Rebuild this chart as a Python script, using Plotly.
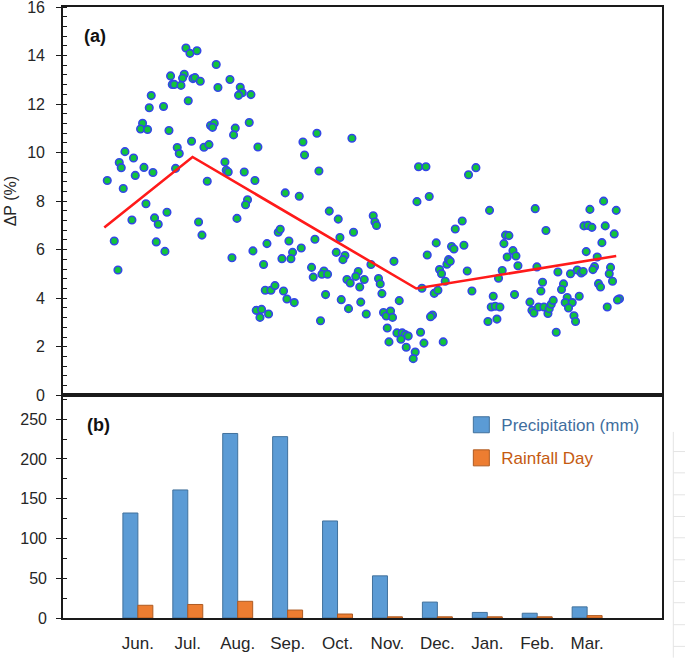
import plotly.graph_objects as go

# ---- Panel (a): daily ΔP scatter (x in month-position units, Jun.=1 ... Mar.=10)
dp_x = [1.963, 2.043, 2.184, 2.570, 1.655, 1.929, 1.895, 2.103, 2.143, 2.250,
        1.689, 1.729, 1.863, 2.604, 2.845, 3.051, 3.091, 3.017, 3.265, 1.268,
        1.228, 1.514, 2.009, 1.094, 1.054, 1.194, 1.623, 2.456, 2.530, 2.496,
        2.951, 2.917, 3.231, 2.075, 2.324, 2.424, 1.789, 1.829, 3.405, 0.741,
        0.913, 0.627, 0.667, 1.122, 1.302, 0.948, 1.755, 2.744, 2.770, 2.810,
        3.131, 3.345, 2.390, 0.387, 0.707, 4.307, 4.339, 4.587, 5.288, 4.627,
        3.952, 4.233, 3.197, 1.162, 3.157,
        6.623, 6.771, 7.624, 7.772, 6.591, 6.837, 10.33, 8.960,
        0.881, 1.334, 1.408, 1.583, 0.527, 1.368, 1.542, 0.601, 2.216, 2.284,
        2.985, 2.885, 3.305, 3.586, 3.812, 3.852, 4.026, 4.099, 4.273, 3.886,
        4.066, 3.518, 4.547, 4.834, 5.014, 5.320, 5.048, 4.974, 5.148, 5.108,
        4.479, 4.513, 4.728, 4.687, 4.800, 5.415, 5.365, 5.188, 5.254, 5.445,
        3.552, 3.666, 3.746, 3.918, 3.986, 4.133, 4.760, 5.074, 5.220, 3.371,
        3.478, 3.446, 3.618, 4.659, 5.465,
        8.045, 10.056, 10.583, 5.715, 5.749, 5.781, 7.498, 7.358, 6.977, 6.797,
        7.284, 7.332, 7.532, 6.130, 5.669, 5.535, 5.821, 5.855, 5.889, 5.575,
        6.236, 5.921, 5.976, 6.062, 6.102, 5.996, 6.190, 6.296, 6.356, 6.416,
        6.270, 6.030, 6.376, 6.556, 6.516, 6.663, 6.731, 7.117, 6.903, 6.863,
        6.691, 6.937, 7.011, 7.157, 7.043, 7.083, 7.191, 7.224, 7.258, 7.598,
        7.692, 8.365, 8.433, 8.333, 8.514, 8.399, 8.574, 8.614, 8.299, 8.225,
        8.546, 8.119, 8.079, 8.159, 8.253, 8.013, 8.193, 9.175, 8.994, 9.107,
        9.074, 8.854, 8.894, 8.934, 9.026, 9.135, 9.215, 9.241, 9.281, 9.321,
        9.381, 9.415, 9.527, 9.487, 9.601, 9.561, 9.702, 9.627, 9.736, 9.768,
        9.842, 9.667, 9.802, 9.882, 9.922, 9.982, 9.936, 10.016, 10.096, 10.363,
        10.543, 10.296, 10.202, 10.148, 10.116, 10.469, 10.443, 10.509, 10.228, 10.268,
        10.649, 10.609, 10.403]
dp_y = [14.31, 14.09, 14.20, 13.63, 13.16, 13.23, 13.07, 13.05, 13.09, 12.94,
        12.81, 12.81, 12.77, 12.68, 13.01, 12.69, 12.47, 12.36, 12.39, 12.35,
        11.85, 11.90, 12.14, 11.21, 10.97, 10.95, 10.91, 11.12, 11.21, 11.04,
        11.01, 10.73, 11.24, 10.47, 10.22, 10.33, 10.21, 9.96, 10.23, 10.04,
        9.78, 9.59, 9.38, 9.39, 9.18, 9.06, 9.35, 9.61, 9.27, 9.20,
        9.20, 8.85, 8.82, 8.85, 8.52, 10.44, 9.90, 10.80, 10.59, 9.24,
        8.34, 8.20, 8.06, 7.89, 7.85,
        9.42, 9.42, 9.09, 9.38, 7.98, 8.19, 8.00, 7.69,
        7.22, 7.31, 7.05, 7.54, 6.36, 6.32, 5.93, 5.16, 7.14, 6.60,
        7.29, 5.67, 5.95, 6.25, 6.72, 6.84, 6.36, 5.89, 6.07, 5.63,
        5.63, 5.39, 6.43, 7.59, 7.26, 6.72, 6.50, 5.89, 5.76, 5.59,
        5.27, 4.87, 5.12, 4.99, 4.99, 5.10, 4.90, 4.77, 4.63, 4.46,
        4.33, 4.33, 4.52, 4.30, 3.97, 3.82, 4.15, 3.94, 3.57, 3.50,
        3.54, 3.21, 3.35, 3.07, 3.84,
        7.62, 7.66, 7.62, 7.40, 7.14, 7.00, 7.18, 6.85, 6.28, 5.78,
        6.13, 6.03, 6.18, 5.52, 5.39, 4.77, 4.81, 4.59, 4.19, 3.35,
        3.90, 3.41, 3.27, 3.47, 3.21, 2.77, 2.57, 2.57, 2.50, 2.44,
        2.31, 2.20, 1.98, 1.78, 1.51, 2.60, 2.15, 2.20, 3.31, 3.24,
        4.41, 4.20, 4.33, 4.70, 5.18, 5.01, 5.40, 5.59, 5.52, 5.12,
        4.30, 6.60, 6.58, 6.25, 5.96, 5.70, 5.74, 5.34, 5.14, 4.82,
        4.15, 4.08, 3.64, 3.67, 3.64, 3.04, 3.14, 6.79, 5.29, 4.66,
        4.30, 3.84, 3.50, 3.39, 3.64, 3.64, 3.37, 3.57, 3.75, 3.91,
        2.60, 5.08, 4.59, 4.36, 4.03, 3.82, 3.82, 3.60, 3.28, 3.04,
        4.08, 5.01, 5.16, 5.04, 5.10, 5.92, 6.98, 7.00, 6.92, 6.98,
        6.65, 6.29, 5.70, 5.30, 5.18, 5.27, 5.01, 4.70, 4.60, 4.46,
        3.98, 3.93, 3.64]

# piecewise trend line (breakpoints)
trend_x = [0.327, 2.095, 6.577, 10.583]
trend_y = [6.91, 9.82, 4.40, 5.74]

# ---- Panel (b): monthly precipitation and rainfall days
month_pos = [1, 2, 3, 4, 5, 6, 7, 8, 9, 10]
month_labels = ["Jun.", "Jul.", "Aug.", "Sep.", "Oct.", "Nov.", "Dec.", "Jan.", "Feb.", "Mar."]
precip_mm = [132, 161, 232, 228, 122, 53, 20, 7, 6, 14]
rain_days = [16, 17, 21, 10, 5, 1.5, 1.5, 1.5, 1.5, 3]
dp_ticks = [0, 2, 4, 6, 8, 10, 12, 14, 16]
precip_ticks = [0, 50, 100, 150, 200, 250]

FONT = "Liberation Sans"
TXT = "#262626"
AX = "#1a1a1a"

fig = go.Figure()

fig.add_trace(go.Scatter(
    x=dp_x, y=dp_y, mode="markers", xaxis="x", yaxis="y", showlegend=False,
    marker=dict(size=7.5, color="#12c43c", line=dict(color="#3347e6", width=1.6)),
))
fig.add_trace(go.Scatter(
    x=trend_x, y=trend_y, mode="lines", xaxis="x", yaxis="y", showlegend=False,
    line=dict(color="#ff1a1a", width=2.6),
))

fig.add_trace(go.Bar(
    x=month_pos, y=precip_mm, xaxis="x2", yaxis="y2", showlegend=False,
    marker=dict(color="#5b9bd5", line=dict(color="#41719c", width=1)),
))
fig.add_trace(go.Bar(
    x=month_pos, y=rain_days, xaxis="x2", yaxis="y2", showlegend=False,
    marker=dict(color="#ed7d31", line=dict(color="#ae5a21", width=1)),
))
# legend proxies
fig.add_trace(go.Scatter(
    x=[None], y=[None], mode="markers", xaxis="x2", yaxis="y2", legendgroup="p",
    name="<span style='color:#3f6e9e'>Precipitation (mm)</span>",
    marker=dict(symbol="square", size=16, color="#5b9bd5", line=dict(color="#41719c", width=1)),
))
fig.add_trace(go.Scatter(
    x=[None], y=[None], mode="markers", xaxis="x2", yaxis="y2", legendgroup="r",
    name="<span style='color:#c55a11'>Rainfall Day</span>",
    marker=dict(symbol="square", size=16, color="#ed7d31", line=dict(color="#ae5a21", width=1)),
))

split = 0.3645
common_axis = dict(showline=True, linecolor=AX, linewidth=1.6, mirror=True,
                   showgrid=False, zeroline=False, automargin=False,
                   ticklabeloverflow="allow")

fig.update_layout(
    width=685, height=658,
    margin=dict(l=63, r=23, t=7, b=40, autoexpand=False),
    paper_bgcolor="white", plot_bgcolor="white",
    font=dict(family=FONT, color=TXT, size=16),
    barmode="group", bargap=0.4, bargroupgap=0,
    xaxis=dict(domain=[0, 1], anchor="y", range=[-0.5, 11.5],
               showticklabels=False, ticks="", **common_axis),
    yaxis=dict(domain=[split, 1], anchor="x", range=[0, 16],
               tickmode="array", tickvals=dp_ticks,
               ticks="outside", ticklen=5, tickwidth=1.2, tickcolor=AX,
               ticklabelstandoff=8,
               minor=dict(dtick=0.4, ticks="inside", ticklen=4, tickcolor=AX, tickwidth=1),
               title=dict(text="ΔP (%)", font=dict(size=16), standoff=7),
               tickfont=dict(size=16), **common_axis),
    xaxis2=dict(domain=[0, 1], anchor="y2", range=[-0.5, 11.5],
                tickmode="array", tickvals=month_pos, ticktext=month_labels,
                ticks="", tickfont=dict(size=17), ticklabelstandoff=9,
                **common_axis),
    yaxis2=dict(domain=[0, split], anchor="x2", range=[0, 280],
                tickmode="array", tickvals=precip_ticks,
                ticks="outside", ticklen=5, tickwidth=1.2, tickcolor=AX,
                ticklabelstandoff=6,
                minor=dict(dtick=25, ticks="inside", ticklen=4, tickcolor=AX, tickwidth=1),
                tickfont=dict(size=16), **common_axis),
    legend=dict(x=0.665, y=0.345, xanchor="left", yanchor="top",
                bgcolor="rgba(0,0,0,0)", font=dict(size=17),
                tracegroupgap=8, itemsizing="trace"),
    annotations=[
        dict(text="<b>(a)</b>", x=0.054, y=0.952, xref="paper", yref="paper",
             xanchor="center", yanchor="middle",
             showarrow=False, font=dict(size=18, color="#111")),
        dict(text="<b>(b)</b>", x=0.059, y=0.316, xref="paper", yref="paper",
             xanchor="center", yanchor="middle",
             showarrow=False, font=dict(size=18, color="#111")),
    ],
)

# faint background sheet lines at the right edge of the image
shapes = [dict(type="line", xref="paper", yref="paper", x0=1.0189, x1=1.0189,
               y0=(618.3 - 432) / 611.6, y1=(618.3 - 658) / 611.6,
               line=dict(color="#e4e4e4", width=1))]
for py in [451.7, 473, 495, 516.7, 538, 560, 581.7, 603, 625, 646.7]:
    yy = (618.3 - py) / 611.6
    shapes.append(dict(type="line", xref="paper", yref="paper", x0=1.0189, x1=1.04,
                       y0=yy, y1=yy, line=dict(color="#e4e4e4", width=1)))
fig.update_layout(shapes=shapes)

fig.write_html(
    "out.html",
    config={"displayModeBar": False},
    post_script="document.body.style.margin='0';document.body.style.overflow='hidden';",
)
